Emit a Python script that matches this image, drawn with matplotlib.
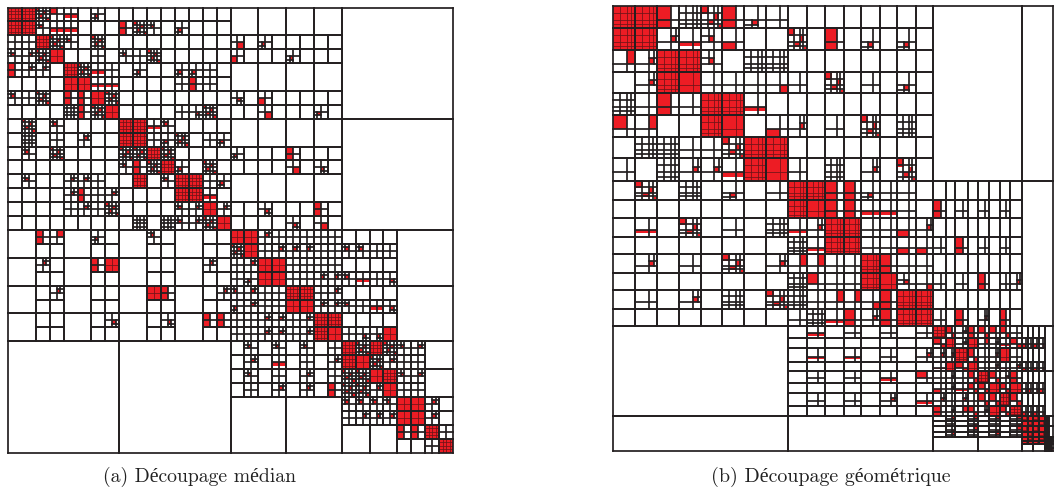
import numpy as np
import matplotlib
matplotlib.use("Agg")
import matplotlib.pyplot as plt
from matplotlib.collections import LineCollection, PatchCollection
from matplotlib.patches import Rectangle

LINE = "#231f20"
RED = "#ed1c24"

captions = ["(a) Découpage médian", "(b) Découpage géométrique"]

# tile codes, one char per tile of the 32x32 grid:
# _ merged with neighbours, . empty, x cross, n fine grid
# 1-4 cross + small red cell in that quadrant, A-D cross + red quadrant
# m fine grid with some red, g cross + two red quadrants, s red strip, h red bar
# F red tile, R red tile with thin cross, d red tile with thin fine grid
median_tiles = [
    "ddmAh.3.........________________",
    "dd1hh...sm1.3...________________",
    "xxdm1.m.........D.3.....________",
    "12mR..x.1xm.....C...3...________",
    "s22.dmhx.3..33x.________________",
    "....RRhh....xsx.________________",
    "1xm.ssRm........4.C.....________",
    "....nsmR....x4m...D...3.________",
    ".m.1....ddh1....________________",
    ".n.x.2..ddx3m.x3________________",
    ".1.m....mmdm....3...s...________",
    "........1smd3.m.....D.4.________",
    ".1..22x..d.1ddx3________________",
    "....2sx2....ddh.________________",
    "....x2xm....12R2..4...s.________",
    ".........n.n12mR....4.D.________",
    "__sB__3.__1.__..RR2xxxxx....____",
    "__..__..__..__..mRx222xx11xx____",
    "__2.__sR__..__2.x2RRxxxx....____",
    "__..__..__..__..x3RRxx221hx4____",
    "__.2__..__Rs__.212xxddx2....____",
    "__..__..__..__..32xxRR221xh4____",
    "__..__.4__.4__ssxx22x2dd....____",
    "__..__..__..__..xx22x2dRx44R____",
    "________________.1.1.1.xdmdm12__",
    "________________.2.h.x.2dRm2xx__",
    "________________.1.x.2.xmmRd12__",
    "________________.x.2.2.smm2Rxx__",
    "________________________1111RR2.",
    "________________________x222RR2.",
    "____________________________ssdx",
    "____________________________..xd",
]

geo_tiles = [
    "ddsnms3x........________________",
    "dd2h1C..m.s.3.3.________________",
    "B2dd1.nn........________________",
    ".2dRxxxDx.m.x.3.________________",
    "nxsxddh.........________________",
    "AB..dR.C2.x.m.n.________________",
    ".nnxxmdd........________________",
    "x.n22hdRx.n.2.m.________________",
    ".m.n.3.xddss3xx.........________",
    "........dRsshhx.s.x.x.x.________",
    ".h.m.x.nh2ddxxC2........________",
    "........nhddxxCCx.s.x.x.________",
    ".2.x.m.2BBxxdsxx........________",
    "........nAxxdR1Dx.x.s.x2________",
    ".x.2.n.mnxBBDsdd........________",
    "........xnhs2sdd x.s.2.s.________".replace(" ", ""),
    "________.h.x.x.xdg2sgAgx....____",
    "________........gR2RB2hgCDCD____",
    "________.h.h.x.222dgx2Rx....____",
    "________........hRgRx2h2CDCD____",
    "________.x.x.h.Ax2xgdg2s....____",
    "________........C2hggRgRDCDC____",
    "________.x.x.2.h2x2xggdg....____",
    "________........s2Bg2RgdCDCD____",
    "________________.B.B.B.BRFRFFF__",
    "________________.x.D.x.DFRFRFF__",
    "________________.D.B.D.BRFRFFF__",
    "________________.B.x.B.xFRFRFF__",
    "________________________FRFRFFxx",
    "________________________RFRFFFxx",
    "____________________________.xA.",
    "____________________________..xF",
]

# cluster boundaries of the tiles, in matrix index
median_cuts = np.arange(33) * 10.0
geo_col_cuts = [0, 22, 44, 66, 88, 109, 131, 153, 175, 194, 212, 231, 248, 267, 284, 303, 320,
                333, 342, 355, 365, 376, 387, 397, 409, 415, 420, 426, 432, 434, 436, 438, 440]
geo_row_cuts = [0, 22, 44, 66, 87, 109, 131, 152, 175, 194, 212, 231, 248, 267, 284, 303, 320,
                332, 342, 356, 365, 377, 387, 400, 410, 415, 420, 426, 431, 435, 438, 442, 445]

def cross(x0, x1, y0, y1, s):
    xm = x0 + s * (x1 - x0)
    ym = y0 + s * (y1 - y0)
    return [[(xm, y0), (xm, y1)], [(x0, ym), (x1, ym)]]

def fine_grid(x0, x1, y0, y1, s):
    segs = []
    for f in (s / 2, s, (1 + s) / 2):
        x = x0 + f * (x1 - x0)
        y = y0 + f * (y1 - y0)
        segs.append([(x, y0), (x, y1)])
        segs.append([(x0, y), (x1, y)])
    return segs

def quadrant(i, x0, x1, y0, y1, s):
    # 0 top left, 1 top right, 2 bottom left, 3 bottom right
    xm = x0 + s * (x1 - x0)
    ym = y0 + s * (y1 - y0)
    xa, xb = (x0, xm) if i in (0, 2) else (xm, x1)
    ya, yb = (y0, ym) if i in (0, 1) else (ym, y1)
    return xa, xb, ya, yb

def rect(x0, x1, y0, y1):
    return Rectangle((x0, y0), x1 - x0, y1 - y0)

def tile_marks(code, x0, x1, y0, y1, s):
    # returns heavy lines, thin lines and red cells of one tile
    box = (x0, x1, y0, y1)
    lines, thin, reds = [], [], []
    if code == "x":
        lines += cross(*box, s)
    elif code in "1234":
        q = quadrant(int(code) - 1, *box, s)
        lines += cross(*box, s) + cross(*q, s)
        reds.append(rect(*quadrant(3 - (int(code) - 1), *q, s)))
    elif code in "ABCD":
        lines += cross(*box, s)
        reds.append(rect(*quadrant("ABCD".index(code), *box, s)))
    elif code == "n":
        lines += fine_grid(*box, s)
    elif code == "m":
        lines += fine_grid(*box, s)
        for q in (0, 3):
            reds.append(rect(*quadrant(q, *quadrant(q, *box, s), s)))
        reds.append(rect(*quadrant(1, *quadrant(2, *box, s), s)))
        reds.append(rect(*quadrant(2, *quadrant(1, *box, s), s)))
    elif code == "g":
        lines += cross(*box, s)
        reds.append(rect(*quadrant(0, *box, s)))
        reds.append(rect(*quadrant(3, *box, s)))
    elif code == "s":
        lines += cross(*box, s)
        q = quadrant(0, *box, s)
        reds.append(rect(q[0], q[1], y0, y1))
    elif code == "h":
        lines += cross(*box, s)
        q = quadrant(2, *box, s)
        reds.append(rect(x0, x1, q[2], (q[2] + q[3]) / 2))
    elif code == "F":
        reds.append(rect(*box))
    elif code == "R":
        reds.append(rect(*box))
        thin += cross(*box, s)
    elif code == "d":
        reds.append(rect(*box))
        thin += fine_grid(*box, s)
    return lines, thin, reds

def block_is_merged(tiles, r, c, size):
    return all(tiles[i][j] == "_" for i in range(r, r + size) for j in range(c, c + size))

def collect_blocks(tiles, r, c, size, out):
    # walk the quadtree, blocks never merge past 8 tiles
    if size <= 8 and block_is_merged(tiles, r, c, size):
        out.append((r, c, size))
    elif size == 1:
        out.append((r, c, 1))
    else:
        half = size // 2
        for i in (0, half):
            for j in (0, half):
                collect_blocks(tiles, r + i, c + j, half, out)

def draw_partition(ax, tiles, col_cuts, row_cuts, split):
    blocks = []
    collect_blocks(tiles, 0, 0, 32, blocks)
    lines, thin, reds = [], [], []
    for r, c, size in blocks:
        x0, x1 = col_cuts[c], col_cuts[c + size]
        y0, y1 = row_cuts[r], row_cuts[r + size]
        if size == 1:
            a, b, d = tile_marks(tiles[r][c], x0, x1, y0, y1, split)
            lines += a
            thin += b
            reds += d
        lines += [[(x0, y0), (x1, y0)], [(x0, y1), (x1, y1)], [(x0, y0), (x0, y1)], [(x1, y0), (x1, y1)]]
    ax.add_collection(PatchCollection(reds, facecolor=RED, edgecolor="none", zorder=1))
    ax.add_collection(LineCollection(thin, colors="#6e1418", linewidths=0.55, zorder=2))
    ax.add_collection(LineCollection(lines, colors=LINE, linewidths=1.25, capstyle="projecting",
                                     clip_on=False, zorder=3))
    ax.set_xlim(col_cuts[0], col_cuts[-1])
    ax.set_ylim(row_cuts[-1], row_cuts[0])
    ax.axis("off")

def panel_axes(fig, left, right, top, bottom):
    W, H = 1054.0, 503.0
    return fig.add_axes([left / W, 1 - bottom / H, (right - left) / W, (bottom - top) / H])

def main():
    fig = plt.figure(figsize=(10.54, 5.03), dpi=100)

    ax1 = panel_axes(fig, 8, 453, 7.5, 452.5)
    draw_partition(ax1, median_tiles, median_cuts, median_cuts, 0.5)

    ax2 = panel_axes(fig, 613, 1053, 6, 451)
    draw_partition(ax2, geo_tiles, geo_col_cuts, geo_row_cuts, 0.62)

    fig.text(199.5 / 1054, 1 - 477 / 503, captions[0], ha="center", va="center",
             fontsize=14.2, family=["cmr10", "Liberation Serif"], color="#222222")
    fig.text(831 / 1054, 1 - 477 / 503, captions[1], ha="center", va="center",
             fontsize=14.4, family=["cmr10", "Liberation Serif"], color="#222222")

    fig.savefig("out.png", dpi=100)

if __name__ == '__main__':
    main()
